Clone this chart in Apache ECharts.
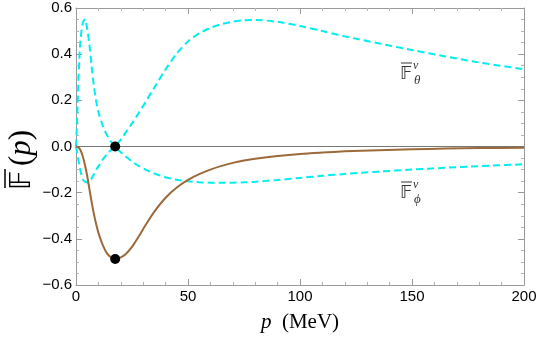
<!DOCTYPE html>
<html>
<head>
<meta charset="utf-8">
<script src="https://cdn.jsdelivr.net/npm/echarts@6/dist/echarts.min.js"></script>
<style>
  html, body { margin: 0; padding: 0; background: #fff; }
  #chart { width: 540px; height: 338px; }
</style>
</head>
<body>
<div id="chart"></div>
<script>
// momentum grid (MeV) and the three form factors
const pValues = [0, 0.5, 1, 1.5, 2, 3, 4, 5, 6, 7, 8, 9, 10, 12, 14, 16, 17.5, 20, 22, 25, 28, 31, 35, 40, 45, 50,
                 55, 60, 65, 70, 75, 80, 90, 100, 110, 120, 135, 150, 165, 180, 200];
const fTheta = [0, -0.028, -0.055, -0.08, -0.105, -0.14, -0.153, -0.156, -0.15, -0.138, -0.12, -0.102, -0.086,
                -0.056, -0.031, -0.012, 0, 0.03, 0.058, 0.1, 0.145, 0.192, 0.256, 0.334, 0.403, 0.455,
                0.49, 0.514, 0.53, 0.541, 0.547, 0.548, 0.54, 0.522, 0.5, 0.477, 0.447, 0.418, 0.39, 0.364, 0.335];
const fPhi = [0, 0.12, 0.26, 0.38, 0.46, 0.535, 0.551, 0.51, 0.44, 0.345, 0.26, 0.197, 0.15,
              0.088, 0.046, 0.016, 0, -0.025, -0.042, -0.065, -0.084, -0.1, -0.117, -0.133, -0.144, -0.151,
              -0.155, -0.1565, -0.157, -0.1565, -0.155, -0.1525, -0.145, -0.136, -0.127, -0.119, -0.109, -0.1, -0.092, -0.085, -0.077];
const fTotal = [0, -0.001, -0.003, -0.008, -0.016, -0.042, -0.08, -0.127, -0.185, -0.242, -0.293, -0.336, -0.373,
                -0.428, -0.465, -0.482, -0.487, -0.48, -0.468, -0.435, -0.39, -0.341, -0.282, -0.222, -0.178, -0.145,
                -0.12, -0.1, -0.084, -0.071, -0.061, -0.053, -0.041, -0.032, -0.026, -0.021, -0.016, -0.012, -0.009, -0.007, -0.005];
// marked points
const nodeP = [17.5, 17.5];
const nodeF = [0, -0.487];
// horizontal reference line at zero
const zeroP = [0, 200];
const zeroF = [0, 0];

function pairs(xs, ys) {
  return xs.map(function (x, i) { return [x, ys[i]]; });
}

let myChart = echarts.init(document.getElementById('chart'));

const frameColor = '#9a9a9a';
const cyan = '#00eef0';
const mathFont = '"Liberation Serif", "DejaVu Serif", serif';
const dsF = '\ud835\udd3d'; // double-struck F

function xAxisCfg(pos, labels) {
  return {
    type: 'value', position: pos, min: 0, max: 200, interval: 50,
    axisLine: { show: true, onZero: false, lineStyle: { color: frameColor, width: 1 } },
    axisTick: { show: true, inside: true, length: 6, lineStyle: { color: frameColor } },
    minorTick: { show: true, splitNumber: 5, length: 3, lineStyle: { color: '#b5b5b5' } },
    splitLine: { show: false },
    axisLabel: { show: labels, color: '#000', fontSize: 15, fontFamily: 'Liberation Sans', margin: 4 }
  };
}

// tick text like "0.0", "−0.2"; wrapped in a rich tag so it is drawn as given
function yLabel(v) {
  const n = Math.round(Number(v) * 10) / 10;
  let s = Math.abs(n) < 1e-9 ? '0.0' : (n < 0 ? '\u2212' : '') + Math.abs(n).toFixed(1);
  return '{t|' + s + '}';
}

function yAxisCfg(pos, labels) {
  return {
    type: 'value', position: pos, min: -0.6, max: 0.6, interval: 0.2,
    axisLine: { show: true, onZero: false, lineStyle: { color: frameColor, width: 1 } },
    axisTick: { show: true, inside: true, length: 6, lineStyle: { color: frameColor } },
    minorTick: { show: true, splitNumber: 4, length: 3, lineStyle: { color: '#b5b5b5' } },
    splitLine: { show: false },
    axisLabel: {
      show: labels, margin: 4, hideOverlap: false,
      formatter: yLabel,
      rich: { t: { color: '#000', fontSize: 15, fontFamily: 'Liberation Sans' } }
    }
  };
}

// F-bar labels with super/subscripts
function fLabel(x, y, sub) {
  return {
    type: 'group', x: x, y: y,
    children: [
      { type: 'line', shape: { x1: 1, y1: 0, x2: 12, y2: 0 }, style: { stroke: '#333', lineWidth: 1 } },
      { type: 'text', x: 0, y: 2, style: { text: dsF, fontSize: 18, fontFamily: 'DejaVu Sans', fill: '#333' } },
      { type: 'text', x: 13, y: -3, style: { text: 'v', fontSize: 12, fontStyle: 'italic', fontFamily: mathFont, fill: '#333' } },
      { type: 'text', x: 14, y: 11, style: { text: sub, fontSize: 13, fontStyle: 'italic', fontFamily: mathFont, fill: '#333' } }
    ]
  };
}

let option = {
  animation: false,
  grid: { left: 76, right: 16, top: 8, bottom: 53 },
  xAxis: [xAxisCfg('bottom', true), xAxisCfg('top', false)],
  yAxis: [yAxisCfg('left', true), yAxisCfg('right', false)],
  series: [
    {
      name: 'zero', type: 'line', data: pairs(zeroP, zeroF), showSymbol: false, silent: true,
      lineStyle: { color: '#777', width: 1 }, z: 1
    },
    {
      name: 'theta', type: 'line', data: pairs(pValues, fTheta), showSymbol: false,
      smooth: 0.3,
      lineStyle: { color: cyan, width: 2, type: [7, 4] }
    },
    {
      name: 'phi', type: 'line', data: pairs(pValues, fPhi), showSymbol: false,
      smooth: 0.3,
      lineStyle: { color: cyan, width: 2, type: [7, 4] }
    },
    {
      name: 'total', type: 'line', data: pairs(pValues, fTotal), showSymbol: false,
      smooth: 0.3,
      lineStyle: { color: '#9c6a3a', width: 2 }
    },
    {
      name: 'nodes', type: 'scatter', data: pairs(nodeP, nodeF), symbolSize: 10,
      itemStyle: { color: '#000', opacity: 1 }, z: 5
    }
  ],
  graphic: [
    {
      // y axis title, drawn rotated
      type: 'group', x: 22, y: 149, rotation: Math.PI / 2,
      children: [
        { type: 'line', shape: { x1: -39, y1: -17, x2: -20, y2: -17 }, style: { stroke: '#000', lineWidth: 1.5 } },
        { type: 'text', x: -41, y: 0, style: { text: dsF, fontSize: 29, fontFamily: 'DejaVu Sans', fill: '#000', align: 'left', verticalAlign: 'middle' } },
        {
          type: 'text', x: -17, y: 0,
          style: {
            text: '{n|(}{i|p}{n|)}', align: 'left', verticalAlign: 'middle',
            rich: {
              n: { fontSize: 31, fontFamily: mathFont, fill: '#000' },
              i: { fontSize: 31, fontFamily: mathFont, fontStyle: 'italic', fill: '#000' }
            }
          }
        }
      ]
    },
    {
      type: 'text', x: 300, y: 322,
      style: {
        text: '{i|p}{n|  (MeV)}', align: 'center', verticalAlign: 'middle',
        rich: {
          i: { fontSize: 21, fontFamily: mathFont, fontStyle: 'italic', fill: '#000' },
          n: { fontSize: 21, fontFamily: mathFont, fill: '#000' }
        }
      }
    },
    fLabel(400, 63, '\u03b8'),
    fLabel(400, 182, '\u03d5')
  ]
};

myChart.setOption(option);
</script>
</body>
</html>
